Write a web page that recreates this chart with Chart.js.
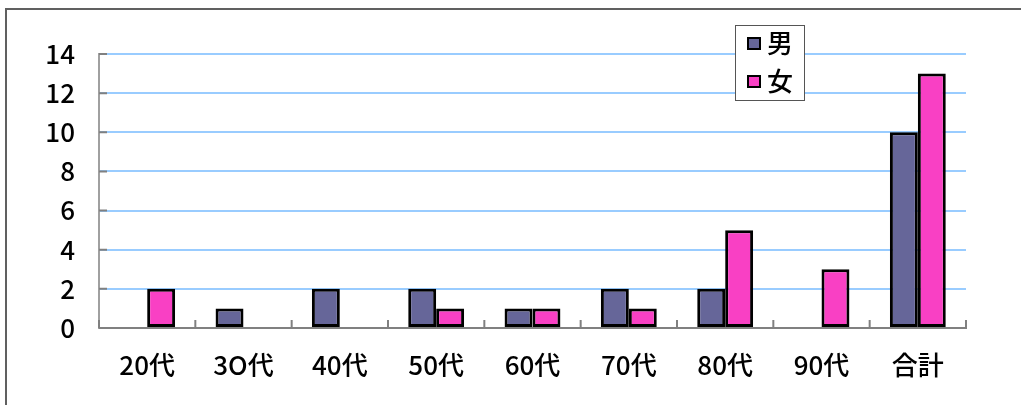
<!DOCTYPE html>
<html>
<head>
<meta charset="utf-8">
<script src="https://cdn.jsdelivr.net/npm/chart.js@4"></script>
<style>
  html, body { margin: 0; padding: 0; background: #fff; }
  #wrap { width: 1021px; height: 405px; }
</style>
</head>
<body>
<div id="wrap"><canvas id="grafico" width="1021" height="405"></canvas></div>
<script>
const categorias = ['20代', '3O代', '40代', '50代', '60代', '70代', '80代', '90代', '合計'];
const homens = [0, 1, 2, 2, 1, 2, 2, 0, 10];
const mulheres = [2, 0, 0, 1, 1, 1, 5, 3, 13];
const rotulos = ['男', '女'];
const yMax = 14;
const yPasso = 2;

const fonte = "'Noto Sans CJK JP', 'Noto Sans', sans-serif";

// moldura, marcas internas e legenda
const extras = {
    id: 'extras',
    afterDraw(chart) {
        const c = chart.ctx;
        const a = chart.chartArea;
        const y = chart.scales.y;
        c.save();

        // moldura externa (só topo e esquerda aparecem)
        c.strokeStyle = '#606060';
        c.lineWidth = 2;
        c.beginPath();
        c.moveTo(6, 405);
        c.lineTo(6, 9);
        c.lineTo(1021, 9);
        c.stroke();

        // marcas para dentro
        c.strokeStyle = '#808080';
        c.lineWidth = 2;
        c.beginPath();
        y.ticks.forEach(t => {
            const py = y.getPixelForValue(t.value);
            c.moveTo(a.left, py);
            c.lineTo(a.left + 8, py);
        });
        for (let i = 0; i <= categorias.length; i++) {
            const px = a.left + (a.right - a.left) * i / categorias.length;
            c.moveTo(px, a.bottom);
            c.lineTo(px, a.bottom - 8);
        }
        c.stroke();

        // legenda
        c.fillStyle = '#fff';
        c.fillRect(735, 25, 69, 75);
        c.strokeStyle = '#555';
        c.lineWidth = 1;
        c.strokeRect(735.5, 25.5, 69, 75);
        chart.data.datasets.forEach((ds, i) => {
            const cy = 43 + i * 38;
            c.fillStyle = ds.backgroundColor;
            c.fillRect(748, cy - 5, 12, 11);
            c.strokeStyle = '#000';
            c.lineWidth = 2;
            c.strokeRect(748, cy - 5, 12, 11);
            c.fillStyle = '#000';
            c.font = '500 26px ' + fonte;
            c.textBaseline = 'middle';
            c.textAlign = 'left';
            c.fillText(ds.label, 767, cy);
        });
        c.restore();
    }
};

const borda = ctx => (ctx.raw === 0 ? 0 : 3);

new Chart(document.getElementById('grafico').getContext('2d'), {
    type: 'bar',
    data: {
        labels: categorias,
        datasets: [{
            label: rotulos[0],
            data: homens,
            backgroundColor: '#666699',
            borderColor: '#000',
            borderWidth: borda,
            borderSkipped: false
        }, {
            label: rotulos[1],
            data: mulheres,
            backgroundColor: '#f940c4',
            borderColor: '#000',
            borderWidth: borda,
            borderSkipped: false
        }]
    },
    options: {
        responsive: false,
        animation: false,
        categoryPercentage: 0.58,
        barPercentage: 1,
        layout: { padding: { top: 54, right: 55, left: 0, bottom: 0 } },
        plugins: {
            legend: { display: false },
            tooltip: { enabled: false }
        },
        scales: {
            x: {
                grid: { display: false, drawTicks: false },
                border: { color: '#808080', width: 2 },
                ticks: { color: '#000', font: { family: fonte, size: 26, weight: '500' }, padding: 22 },
                afterFit(s) { s.height = 77; }
            },
            y: {
                min: 0,
                max: yMax,
                grid: { color: '#99ccff', lineWidth: 2, drawTicks: false },
                border: { color: '#a0a0a0', width: 2 },
                ticks: { stepSize: yPasso, color: '#000', font: { family: fonte, size: 26, weight: '500' }, padding: 24 },
                afterFit(s) { s.width = 99; }
            }
        }
    },
    plugins: [extras]
});
</script>
</body>
</html>
